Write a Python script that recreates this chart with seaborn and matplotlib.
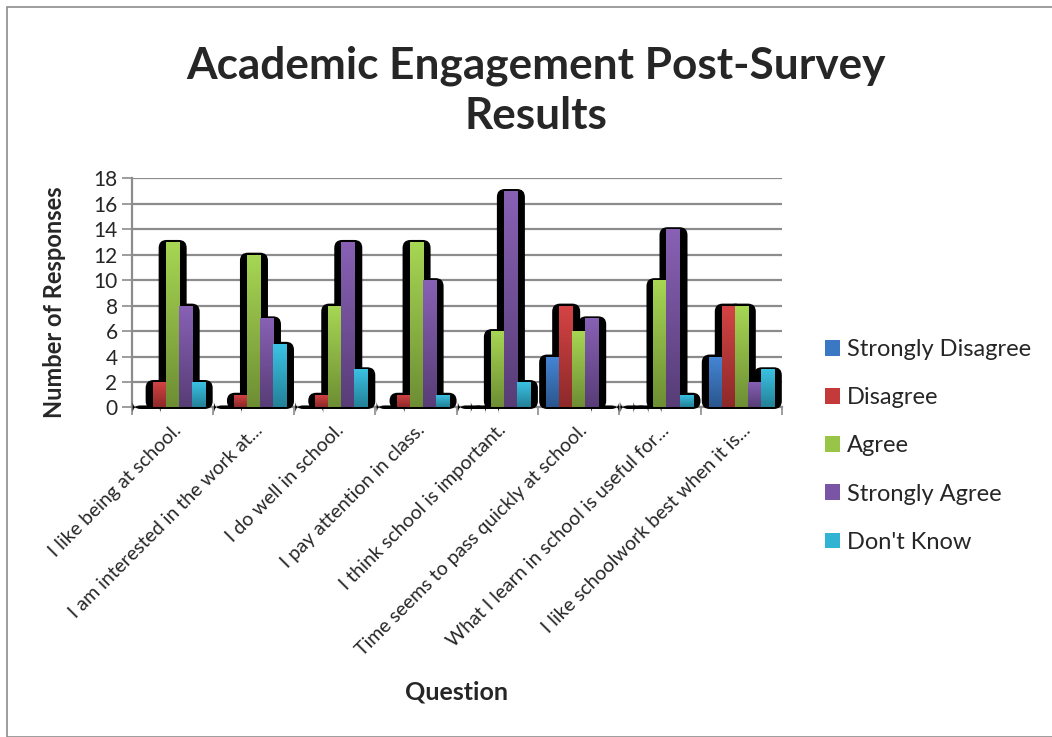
import numpy as np
import pandas as pd
import matplotlib
matplotlib.use("Agg")
import matplotlib.pyplot as plt
import seaborn as sns
from matplotlib.patches import FancyBboxPatch, Rectangle, Patch
from matplotlib.colors import to_rgb

questions = [
    "I like being at school.",
    "I am interested in the work at...",
    "I do well in school.",
    "I pay attention in class.",
    "I think school is important.",
    "Time seems to pass quickly at school.",
    "What I learn in school is useful for...",
    "I like schoolwork best when it is...",
]
responses = ["Strongly Disagree", "Disagree", "Agree", "Strongly Agree", "Don't Know"]
strongly_disagree = [0, 0, 0, 0, 0, 4, 0, 4]
disagree = [2, 1, 1, 1, 0, 8, 0, 8]
agree = [13, 12, 8, 13, 6, 6, 10, 8]
strongly_agree = [8, 7, 13, 10, 17, 7, 14, 2]
dont_know = [2, 5, 3, 1, 2, 0, 1, 3]
colors = ["#3B78C4", "#C4393A", "#98C548", "#7A55A5", "#31B3D3"]

series = [strongly_disagree, disagree, agree, strongly_agree, dont_know]
df = pd.DataFrame({
    "Question": np.repeat(questions, len(responses)).tolist(),
    "Response": responses * len(questions),
    "Count": [series[j][i] for i in range(len(questions)) for j in range(len(responses))],
})

sns.set_theme(style="white")
plt.rcParams["font.family"] = ["Lato", "DejaVu Sans"]

fig = plt.figure(figsize=(10.52, 7.37), dpi=100)
ax = fig.add_axes([0.125, 0.4471, 0.6183, 0.311])

sns.barplot(data=df, x="Question", y="Count", hue="Response", hue_order=responses,
            palette=colors, width=0.8, dodge=True, ax=ax, legend=False,
            saturation=1, edgecolor="none", linewidth=0, zorder=3)

ax.set_xlim(-0.5, len(questions) - 0.5)
ax.set_ylim(0, 18)

# pixel -> data conversions
fig.canvas.draw()
px_x = (ax.get_xlim()[1] - ax.get_xlim()[0]) / ax.get_window_extent().width
px_y = (ax.get_ylim()[1] - ax.get_ylim()[0]) / ax.get_window_extent().height

bars = [p for p in ax.patches]
for p in bars:
    x, w, h = p.get_x(), p.get_width(), p.get_height()
    base = np.array(to_rgb(p.get_facecolor()))
    # shadow
    sh = FancyBboxPatch((x - 7 * px_x, -1.5 * px_y), w + 15 * px_x, h + 3.5 * px_y,
                        boxstyle=f"round,pad=0,rounding_size={8 * px_x}",
                        mutation_aspect=px_y / px_x,
                        facecolor="black", edgecolor="none", zorder=2, clip_on=False)
    ax.add_patch(sh)
    # gradient fill
    if h > 0:
        top = np.clip(base * 1.05 + 0.03, 0, 1)
        bot = base * 0.72
        t = np.linspace(0, 1, 64)[:, None]
        grad = bot[None, :] * (1 - t) + top[None, :] * t
        grad = np.repeat(grad[:, None, :], 2, axis=1)
        im = ax.imshow(grad, extent=[x, x + w, 0, h], origin="lower", aspect="auto",
                       zorder=4, interpolation="bilinear")
        im.set_clip_path(p)

ax.set_xlim(-0.5, len(questions) - 0.5)
ax.set_ylim(0, 18)
ax.set_aspect("auto")

ax.set_yticks(np.arange(0, 19, 2))
ax.yaxis.grid(True, color="#8C8C8C", linewidth=1.6, zorder=0)
ax.set_axisbelow(True)
for s in ["top", "right"]:
    ax.spines[s].set_visible(False)
for s in ["left", "bottom"]:
    ax.spines[s].set_color("#8C8C8C")
    ax.spines[s].set_linewidth(1.6)
    ax.spines[s].set_zorder(1)

ax.set_xticks(range(len(questions)))
ax.set_xticklabels(questions, rotation=45, ha="right", rotation_mode="anchor", fontsize=14)
ax.set_xticks(np.arange(-0.5, len(questions), 1), minor=True)
ax.tick_params(axis="x", which="major", length=0, pad=10)
ax.tick_params(axis="x", which="minor", length=6, color="#8C8C8C", width=1.2, direction="out")
ax.tick_params(axis="y", length=7, color="#8C8C8C", width=1.2, direction="out", labelsize=15, pad=3)
ax.tick_params(bottom=True, left=True, which="both")
ax.tick_params(axis="x", which="major", bottom=False)

ax.set_ylabel("")
ax.set_xlabel("")
fig.text(0.052, 0.590, "Number of Responses", fontsize=17, fontweight="bold",
         ha="center", va="center", rotation=90)
fig.text(0.434, 0.061, "Question", fontsize=18, fontweight="bold", ha="center", va="center")

fig.text(0.5095, 0.877, "Academic Engagement Post-Survey\nResults", fontsize=31.8,
         fontweight="bold", ha="center", va="center", linespacing=1.32)

handles = [Patch(facecolor=c, edgecolor="none") for c in colors]
fig.legend(handles, responses, loc="center left", bbox_to_anchor=(0.784, 0.395),
           frameon=False, fontsize=17, labelspacing=1.15, handlelength=0.64,
           handleheight=0.64, handletextpad=0.3, borderpad=0, borderaxespad=0)

fig.add_artist(Rectangle((0.007, 0.0), 1.2, 0.99, transform=fig.transFigure,
                         fill=False, edgecolor="#8C8C8C", linewidth=1.2))

fig.savefig("out.png", dpi=100)
